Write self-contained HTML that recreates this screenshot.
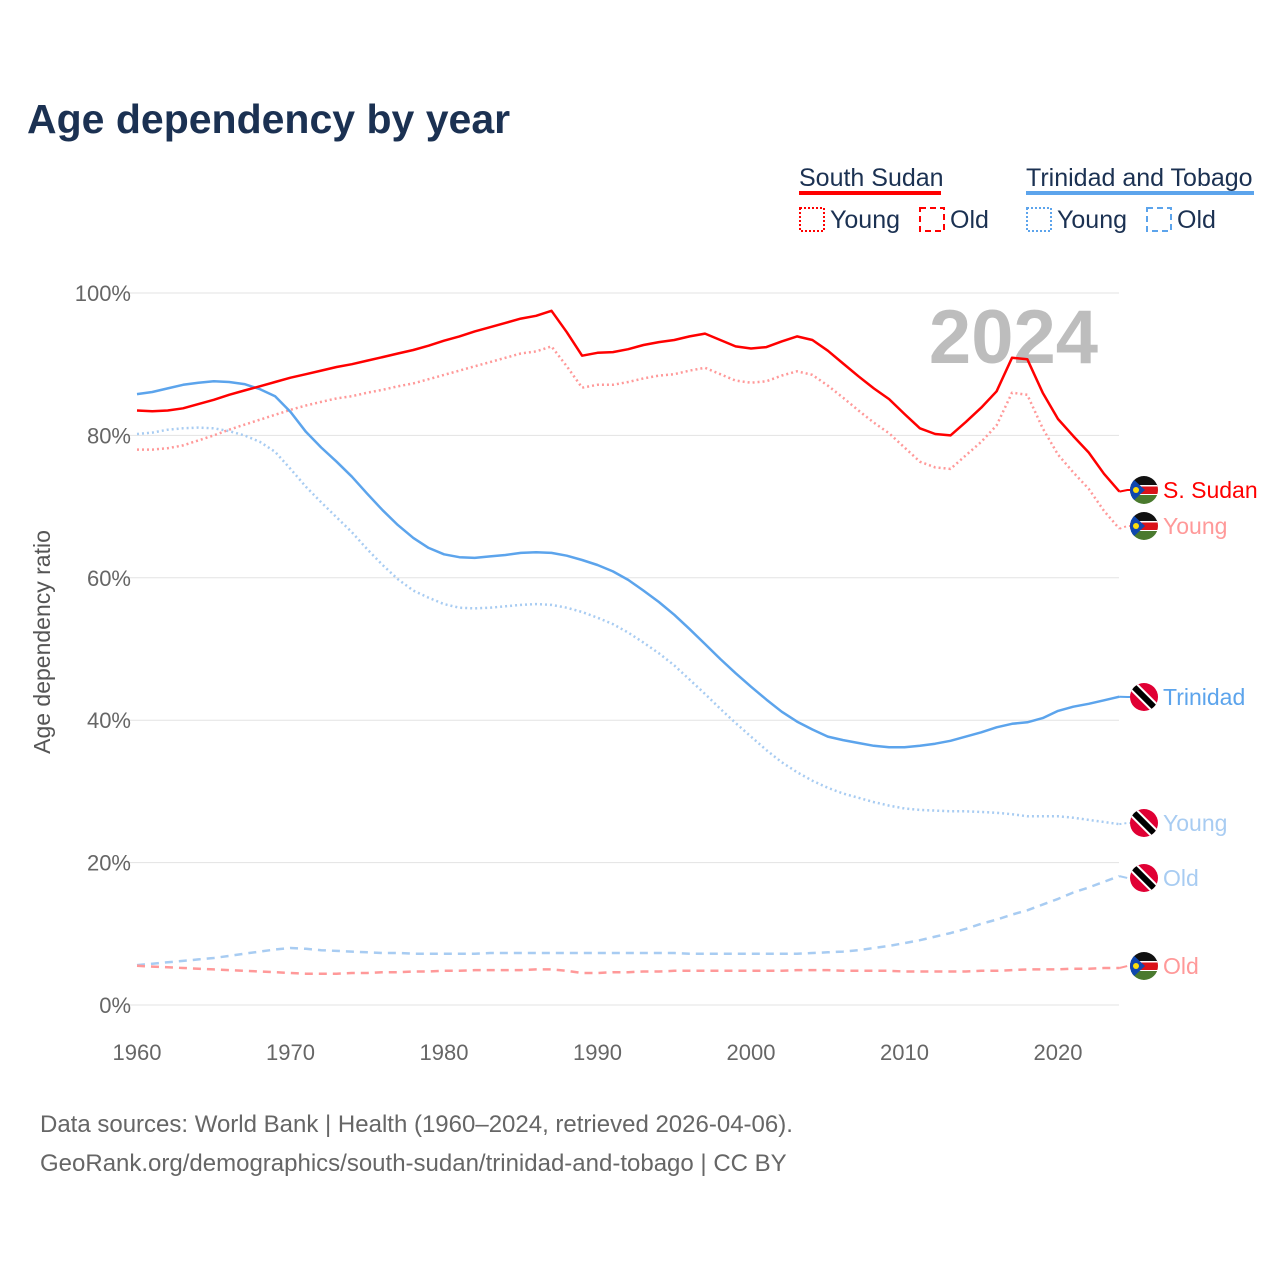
<!DOCTYPE html>
<html><head><meta charset="utf-8"><style>
body{margin:0;background:#fff;font-family:"Liberation Sans",sans-serif}
svg text{font-family:"Liberation Sans",sans-serif}
</style></head><body>
<svg id="c" width="1280" height="1280" viewBox="0 0 1280 1280">
<text x="27" y="133" font-size="41" font-weight="bold" fill="#1b3152">Age dependency by year</text>
<g>
 <text x="799" y="186" font-size="25" fill="#1b3152">South Sudan</text>
 <rect x="799" y="191" width="142" height="4" fill="#ff0000"/>
 <rect x="800" y="208" width="24" height="23" fill="none" stroke="#ff0000" stroke-width="2" stroke-dasharray="2,2"/>
 <text x="830" y="228" font-size="25" fill="#1b3152">Young</text>
 <rect x="920" y="208" width="24" height="23" fill="none" stroke="#ff0000" stroke-width="2" stroke-dasharray="6,4"/>
 <text x="950" y="228" font-size="25" fill="#1b3152">Old</text>
 <text x="1026" y="186" font-size="25" fill="#1b3152">Trinidad and Tobago</text>
 <rect x="1026" y="191" width="228" height="4" fill="#5ca4ec"/>
 <rect x="1027" y="208" width="24" height="23" fill="none" stroke="#5ca4ec" stroke-width="2" stroke-dasharray="2,2"/>
 <text x="1057" y="228" font-size="25" fill="#1b3152">Young</text>
 <rect x="1147" y="208" width="24" height="23" fill="none" stroke="#5ca4ec" stroke-width="2" stroke-dasharray="6,4"/>
 <text x="1177" y="228" font-size="25" fill="#1b3152">Old</text>
</g>
<g id="grid"></g>
<text x="1098" y="363" font-size="76" font-weight="bold" fill="#bdbdbd" text-anchor="end">2024</text>
<text transform="translate(50,642) rotate(-90)" font-size="23" fill="#555" text-anchor="middle">Age dependency ratio</text>
<g id="series"></g>
<g id="labels"></g>
<text x="40" y="1132" font-size="24" fill="#666">Data sources: World Bank | Health (1960–2024, retrieved 2026-04-06).</text>
<text x="40" y="1171" font-size="24" fill="#666">GeoRank.org/demographics/south-sudan/trinidad-and-tobago | CC BY</text>
</svg>
<script>
const startYear = 1960;
const xTicks = [1960,1970,1980,1990,2000,2010,2020];
const yTicks = [0,20,40,60,80,100];
const ssTotal = [83.5,83.4,83.5,83.8,84.4,85.0,85.7,86.3,86.9,87.5,88.1,88.6,89.1,89.6,90.0,90.5,91.0,91.5,92.0,92.6,93.3,93.9,94.6,95.2,95.8,96.4,96.8,97.5,94.5,91.2,91.6,91.7,92.1,92.7,93.1,93.4,93.9,94.3,93.4,92.5,92.2,92.4,93.2,93.9,93.4,91.9,90.1,88.3,86.6,85.1,83.0,81.0,80.2,80.0,81.9,83.9,86.2,90.9,90.7,86.0,82.3,79.9,77.6,74.6,72.1];
const ssYoung = [78.0,78.0,78.2,78.6,79.3,80.0,80.8,81.5,82.2,82.9,83.6,84.2,84.7,85.2,85.5,86.0,86.4,86.9,87.3,87.9,88.5,89.1,89.7,90.3,90.9,91.5,91.8,92.5,89.7,86.7,87.1,87.1,87.5,88.0,88.4,88.6,89.1,89.5,88.6,87.7,87.4,87.6,88.4,89.0,88.5,87.0,85.3,83.5,81.8,80.3,78.3,76.3,75.5,75.3,77.2,79.1,81.4,86.0,85.7,81.0,77.3,74.8,72.5,69.4,66.9];
const ssOld = [5.5,5.4,5.3,5.2,5.1,5.0,4.9,4.8,4.7,4.6,4.5,4.4,4.4,4.4,4.5,4.5,4.6,4.6,4.7,4.7,4.8,4.8,4.9,4.9,4.9,4.9,5.0,5.0,4.8,4.5,4.5,4.6,4.6,4.7,4.7,4.8,4.8,4.8,4.8,4.8,4.8,4.8,4.8,4.9,4.9,4.9,4.8,4.8,4.8,4.8,4.7,4.7,4.7,4.7,4.7,4.8,4.8,4.9,5.0,5.0,5.0,5.1,5.1,5.2,5.2];
const ttTotal = [85.8,86.1,86.6,87.1,87.4,87.6,87.5,87.2,86.5,85.5,83.3,80.5,78.3,76.3,74.2,71.8,69.5,67.4,65.6,64.2,63.3,62.9,62.8,63.0,63.2,63.5,63.6,63.5,63.1,62.5,61.8,60.9,59.7,58.2,56.6,54.8,52.8,50.7,48.6,46.6,44.7,42.9,41.2,39.8,38.7,37.7,37.2,36.8,36.4,36.2,36.2,36.4,36.7,37.1,37.7,38.3,39.0,39.5,39.7,40.3,41.3,41.9,42.3,42.8,43.3];
const ttYoung = [80.2,80.4,80.8,81.0,81.1,81.0,80.6,80.0,79.1,77.7,75.3,72.8,70.6,68.5,66.4,64.0,61.8,59.8,58.2,57.2,56.3,55.8,55.7,55.8,56.0,56.2,56.3,56.2,55.8,55.2,54.4,53.5,52.3,50.9,49.4,47.7,45.7,43.7,41.6,39.6,37.7,35.8,34.1,32.7,31.5,30.5,29.7,29.1,28.5,28.0,27.6,27.4,27.3,27.2,27.2,27.1,27.0,26.8,26.5,26.5,26.5,26.3,26.0,25.7,25.4];
const ttOld = [5.6,5.8,6.0,6.2,6.4,6.6,6.9,7.2,7.5,7.8,8.0,7.9,7.7,7.6,7.5,7.4,7.3,7.3,7.2,7.2,7.2,7.2,7.2,7.3,7.3,7.3,7.3,7.3,7.3,7.3,7.3,7.3,7.3,7.3,7.3,7.3,7.2,7.2,7.2,7.2,7.2,7.2,7.2,7.2,7.3,7.4,7.5,7.7,8.0,8.3,8.7,9.1,9.6,10.1,10.7,11.4,12.0,12.7,13.3,14.1,14.9,15.8,16.5,17.3,18.1];

const NS='http://www.w3.org/2000/svg';
const X = yr => 137 + (yr-1960)*(1058-137)/60;
const Y = v => 1005 - v*7.12;
function mk(tag, attrs, parent){const e=document.createElementNS(NS,tag);for(const k in attrs)e.setAttribute(k,attrs[k]);parent.appendChild(e);return e;}
const grid=document.getElementById('grid');
yTicks.forEach(t=>{
  const l=mk('line',{x1:127,x2:1119,y1:Y(t),y2:Y(t),stroke:'#e3e3e3','stroke-width':1},grid);
  
  
  const tx=mk('text',{x:131,y:Y(t)+8,'font-size':22,fill:'#666','text-anchor':'end'},grid);
  tx.textContent=t+'%';
  
  
});
xTicks.forEach(t=>{
  const tx=mk('text',{x:X(t),y:1060,'font-size':22,fill:'#666','text-anchor':'middle'},grid);
  tx.textContent=t;
  
  
});
const ser=document.getElementById('series');
const defs=[
 [ttOld,'#a8ccf2','8,6','tt-old-line'],
 [ssOld,'#ff9999','8,6','ss-old-line'],
 [ttYoung,'#a8ccf2','2,3','tt-young-line'],
 [ssYoung,'#ff9999','2,3','ss-young-line'],
 [ttTotal,'#5ca4ec','','tt-total-line'],
 [ssTotal,'#ff0000','','ss-total-line']];
defs.forEach(([d,c,da,n])=>{
  const pts=d.map((v,i)=>X(startYear+i).toFixed(1)+','+Y(v).toFixed(1)).join(' ');
  const p=mk('polyline',{points:pts,fill:'none',stroke:c,'stroke-width':2.5,'stroke-dasharray':da,'stroke-linejoin':'round'},ser);
  
  
});
const labs=document.getElementById('labels');
const lastX=X(2024);
function flagSS(cx,cy){
  const g=mk('g',{},labs);
  const cid='c'+Math.round(cy);
  const cp=mk('clipPath',{id:cid},g);mk('circle',{cx,cy,r:14},cp);
  const gg=mk('g',{'clip-path':'url(#'+cid+')'},g);
  mk('rect',{x:cx-14,y:cy-14,width:28,height:10,fill:'#111'},gg);
  mk('rect',{x:cx-14,y:cy-4,width:28,height:8,fill:'#da121a'},gg);
  mk('rect',{x:cx-14,y:cy-5,width:28,height:1.5,fill:'#fff'},gg);
  mk('rect',{x:cx-14,y:cy+4,width:28,height:1.5,fill:'#fff'},gg);
  mk('rect',{x:cx-14,y:cy+5,width:28,height:10,fill:'#4a7a2e'},gg);
  mk('polygon',{points:`${cx-14},${cy-14} ${cx+1},${cy} ${cx-14},${cy+14}`,fill:'#0f47af'},gg);
  mk('circle',{cx:cx-8,cy:cy,r:3,fill:'#fcdd09'},gg);
  return g;
}
function flagTT(cx,cy){
  const g=mk('g',{},labs);
  const cid='t'+Math.round(cy);
  const cp=mk('clipPath',{id:cid},g);mk('circle',{cx,cy,r:14},cp);
  const gg=mk('g',{'clip-path':'url(#'+cid+')'},g);
  mk('rect',{x:cx-14,y:cy-14,width:28,height:28,fill:'#e00034'},gg);
  mk('line',{x1:cx-14,y1:cy-14,x2:cx+14,y2:cy+14,stroke:'#fff','stroke-width':10},gg);
  mk('line',{x1:cx-14,y1:cy-14,x2:cx+14,y2:cy+14,stroke:'#000','stroke-width':6},gg);
  return g;
}
const labelDefs=[
 [ssTotal,490,'S. Sudan','#ff0000','ss',''],
 [ssYoung,526,'Young','#ff9999','ss','2,3'],
 [ttTotal,697,'Trinidad','#5ca4ec','tt',''],
 [ttYoung,823,'Young','#a8ccf2','tt','2,3'],
 [ttOld,878,'Old','#a8ccf2','tt','8,6'],
 [ssOld,966,'Old','#ff9999','ss','8,6']];
labelDefs.forEach(([d,ly,txt,c,f,da],i)=>{
  const vy=Y(d[d.length-1]);
  const ln=mk('polyline',{points:`${lastX},${vy} ${lastX+8},${ly} ${1130},${ly}`,fill:'none',stroke:c,'stroke-width':2,'stroke-dasharray':da},labs);
  
  
  const fg=f==='ss'?flagSS(1144,ly):flagTT(1144,ly);
  
  
  const t=mk('text',{x:1163,y:ly+8,'font-size':23,fill:c},labs);
  t.textContent=txt;
  
  
});
</script>
</body></html>
